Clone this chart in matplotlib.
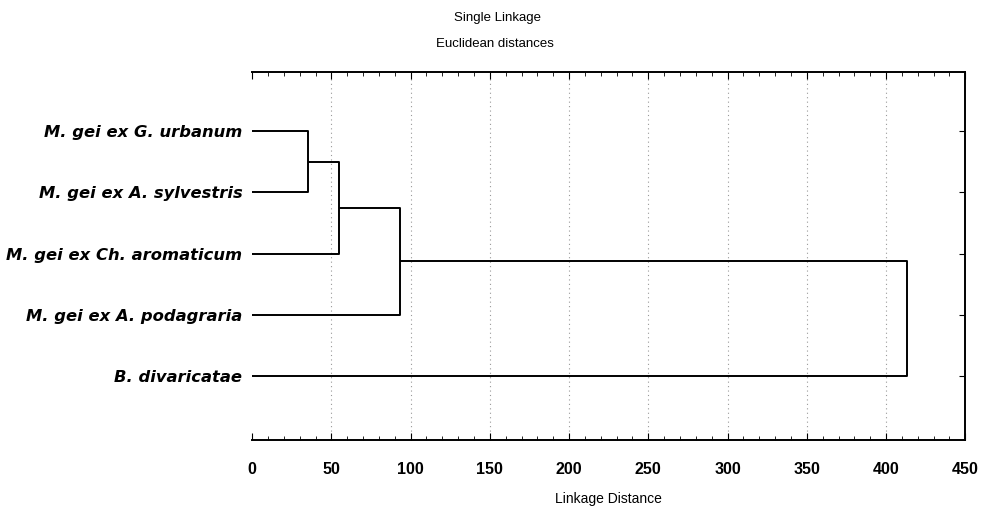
import matplotlib.pyplot as plt
import numpy as np

plt.rcParams['font.family'] = ['Liberation Sans', 'DejaVu Sans']

# leaves, top to bottom
labels = ["M. gei ex G. urbanum", "M. gei ex A. sylvestris",
          "M. gei ex Ch. aromaticum", "M. gei ex A. podagraria",
          "B. divaricatae"]
# merge steps: (left node, right node, linkage distance)
# nodes 0..4 are the leaves, 5.. the merged clusters
merges = [(0, 1, 35), (5, 2, 55), (6, 3, 93), (7, 4, 413)]
xticks = [0, 50, 100, 150, 200, 250, 300, 350, 400, 450]

fig = plt.figure(figsize=(9.81, 5.11), dpi=100)
ax = fig.add_axes([0.257, 0.139, 0.727, 0.72])

# node positions: (height, y)
pos = {i: (0, i + 1) for i in range(len(labels))}
for k, (a, b, d) in enumerate(merges):
    xa, ya = pos[a]
    xb, yb = pos[b]
    ax.plot([xa, d, d, xb], [ya, ya, yb, yb], color='black', lw=1.4,
            solid_capstyle='butt', zorder=3)
    pos[len(labels) + k] = (d, (ya + yb) / 2)

ax.set_xlim(0, 450)
ax.set_ylim(6.04, 0.04)
ax.set_xticks(xticks)
ax.set_xticks(np.arange(0, 451, 10), minor=True)
ax.set_yticks(range(1, len(labels) + 1))
ax.set_yticklabels(labels, fontsize=11.8, fontweight='bold', style='italic',
                   family=['DejaVu Sans'])
ax.tick_params(axis='y', left=False, right=True, direction='in', length=4, pad=7)
ax.tick_params(axis='x', which='both', top=True, direction='in')
ax.tick_params(axis='x', which='major', length=5, labelsize=11.5, pad=16)
ax.tick_params(axis='x', which='minor', length=3)
for lbl in ax.get_xticklabels():
    lbl.set_fontweight('bold')

ax.spines['left'].set_visible(False)
for s in ['top', 'right', 'bottom']:
    ax.spines[s].set_linewidth(1.4)

for x in xticks[1:-1]:
    ax.axvline(x, color='#999999', lw=0.8, ls=(0, (1, 3)), zorder=1)

ax.set_xlabel("Linkage Distance", fontsize=10, labelpad=11)
fig.text(0.507, 0.965, "Single Linkage", ha='center', va='center', fontsize=9.5)
fig.text(0.505, 0.914, "Euclidean distances", ha='center', va='center', fontsize=9.5)

fig.savefig("out.png", dpi=100)
